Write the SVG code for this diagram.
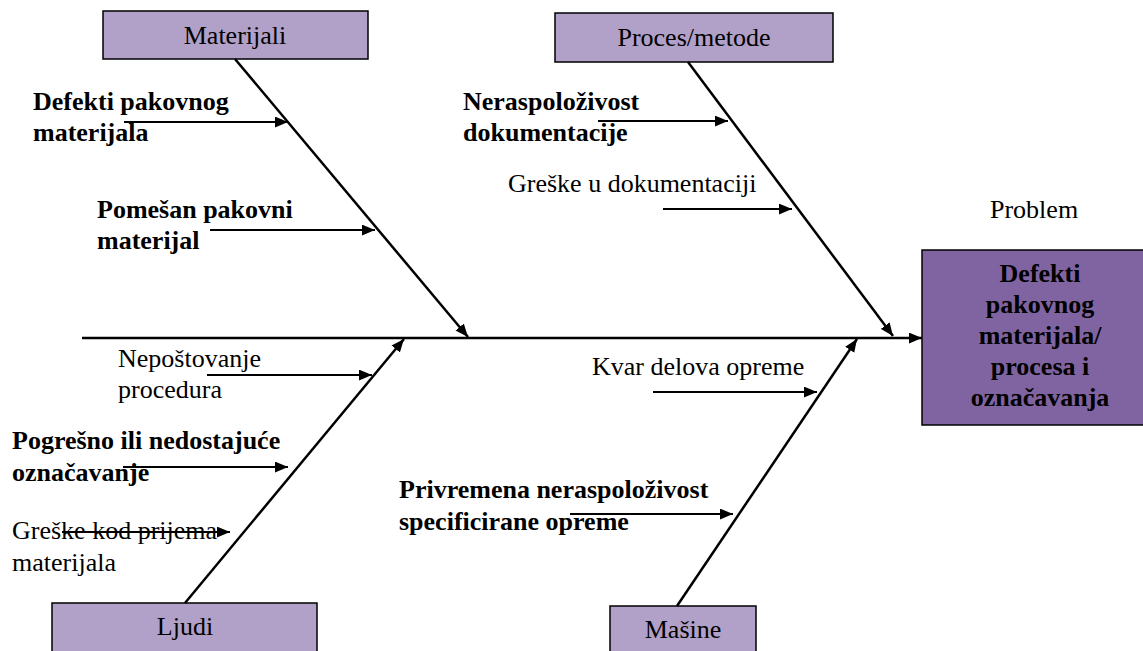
<svg xmlns="http://www.w3.org/2000/svg" width="1143" height="651" viewBox="0 0 1143 651">
  <style>
    .cat { fill: #B1A0C7; stroke: #000; stroke-width: 1.5; }
    .prob { fill: #8064A2; stroke: #000; stroke-width: 1.5; }
    text { font-family: 'Times New Roman', 'Liberation Serif', Tinos, Times, 'DejaVu Serif', serif; font-size: 26px; fill: #000; }
    .b { font-weight: bold; }
    .mid { text-anchor: middle; }
    .bone { stroke: #000; stroke-width: 2.5; fill: none; }
    .sub { stroke: #000; stroke-width: 2; fill: none; }
  </style>
  <defs>
    <marker id="arrow" viewBox="0 0 12 10" refX="12" refY="5" markerWidth="13" markerHeight="11" markerUnits="userSpaceOnUse" orient="auto">
      <path d="M0,0 L12,5 L0,10 z" fill="#000"/>
    </marker>
  </defs>
  <rect width="1143" height="651" fill="#fff"/>

  <!-- category boxes -->
  <g id="materijali">
    <rect class="cat" x="103" y="11" width="265" height="48"/>
    <text class="mid" x="235" y="44">Materijali</text>
  </g>
  <g id="proces">
    <rect class="cat" x="555" y="13" width="278" height="49"/>
    <text class="mid" x="694" y="46">Proces/metode</text>
  </g>
  <g id="ljudi">
    <rect class="cat" x="52" y="603" width="265" height="60"/>
    <text class="mid" x="185" y="635">Ljudi</text>
  </g>
  <g id="masine">
    <rect class="cat" x="610" y="606" width="146" height="60"/>
    <text class="mid" x="683" y="638">Mašine</text>
  </g>

  <!-- problem (head) -->
  <g id="problem">
    <text x="990" y="218">Problem</text>
    <rect class="prob" x="922" y="250" width="222" height="175"/>
    <text class="b mid" x="1040" y="282">Defekti</text>
    <text class="b mid" x="1040" y="313">pakovnog</text>
    <text class="b mid" x="1040" y="344">materijala/</text>
    <text class="b mid" x="1040" y="375">procesa i</text>
    <text class="b mid" x="1040" y="406">označavanja</text>
  </g>

  <!-- cause labels -->
  <g id="causes">
    <text class="b" x="33" y="110">Defekti pakovnog</text>
    <text class="b" x="33" y="141">materijala</text>
    <text class="b" x="97" y="218">Pomešan pakovni</text>
    <text class="b" x="97" y="249">materijal</text>
    <text class="b" x="463" y="110">Neraspoloživost</text>
    <text class="b" x="463" y="141">dokumentacije</text>
    <text x="508" y="192">Greške u dokumentaciji</text>
    <text x="118" y="367">Nepoštovanje</text>
    <text x="118" y="398">procedura</text>
    <text class="b" x="12" y="449">Pogrešno ili nedostajuće</text>
    <text class="b" x="12" y="481">označavanje</text>
    <text x="12" y="539">Greške kod prijema</text>
    <text x="12" y="571">materijala</text>
    <text x="592" y="375">Kvar delova opreme</text>
    <text class="b" x="399" y="498">Privremena neraspoloživost</text>
    <text class="b" x="399" y="530">specificirane opreme</text>
  </g>

  <!-- connectors -->
  <g id="connectors">
    <line class="bone" x1="82" y1="338" x2="922" y2="338" marker-end="url(#arrow)"/>
    <line class="bone" x1="235" y1="59" x2="468" y2="337" marker-end="url(#arrow)"/>
    <line class="bone" x1="688" y1="62" x2="893" y2="336" marker-end="url(#arrow)"/>
    <line class="bone" x1="185" y1="603" x2="404" y2="339" marker-end="url(#arrow)"/>
    <line class="bone" x1="677" y1="606" x2="857" y2="339" marker-end="url(#arrow)"/>

    <line class="sub" x1="124" y1="122" x2="288" y2="122" marker-end="url(#arrow)"/>
    <line class="sub" x1="210" y1="230" x2="375" y2="230" marker-end="url(#arrow)"/>
    <line class="sub" x1="598" y1="121" x2="728" y2="121" marker-end="url(#arrow)"/>
    <line class="sub" x1="663" y1="209" x2="792" y2="209" marker-end="url(#arrow)"/>
    <line class="sub" x1="207" y1="375" x2="372" y2="375" marker-end="url(#arrow)"/>
    <line class="sub" x1="123" y1="467" x2="288" y2="467" marker-end="url(#arrow)"/>
    <line class="sub" x1="62" y1="532" x2="230" y2="532" marker-end="url(#arrow)"/>
    <line class="sub" x1="653" y1="392" x2="817" y2="392" marker-end="url(#arrow)"/>
    <line class="sub" x1="570" y1="514" x2="733" y2="514" marker-end="url(#arrow)"/>
  </g>
</svg>
